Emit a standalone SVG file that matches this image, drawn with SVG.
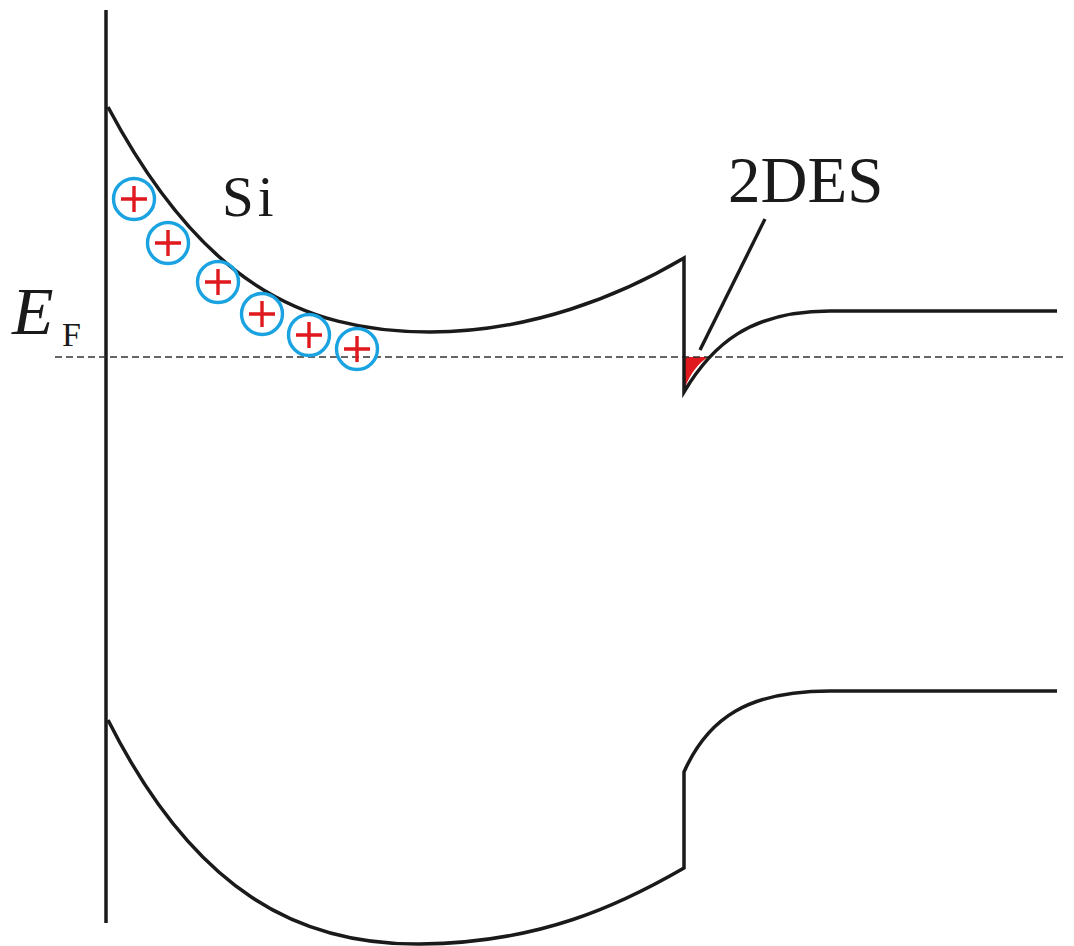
<svg xmlns="http://www.w3.org/2000/svg" width="1074" height="946" viewBox="0 0 1074 946">
<style>
.band{fill:none;stroke:#1a1a1a;stroke-width:3.5;stroke-linejoin:miter}
.ion circle{fill:none;stroke:#1aa3e0;stroke-width:3.4}
.ion path{stroke:#e0191e;stroke-width:3.4;fill:none}
.lbl{font-family:"Liberation Serif","Times New Roman",serif;fill:#1a1a1a}
</style>
<rect width="1074" height="946" fill="#fff"/>
<g id="axis"><line x1="106" y1="10" x2="106" y2="923" class="band"/></g>
<g id="twodes-fill"><path d="M685,357 L708,357 C699,363 690,373 685,388 Z" fill="#e0191e"/></g>
<g id="fermi"><line x1="55" y1="357" x2="1066" y2="357" stroke="#333" stroke-width="1.6" stroke-dasharray="7,4"/></g>
<g id="conduction-band">
<path class="band" d="M108,107 C200,280 300,332 430,332 C530,332 620,296 684,258 L684,392 C712,345 750,311 830,311 L1057,311"/>
</g>
<g id="valence-band">
<path class="band" d="M108,720 C195,893 300,945 420,944 C540,943 620,905 684,868 L684,772 C708,718 748,691 830,691 L1057,691"/>
</g>
<g id="ions">
<g class="ion"><circle cx="134" cy="199" r="20.5"/><path d="M121,199 H147 M134,186 V212"/></g>
<g class="ion"><circle cx="168" cy="243" r="20.5"/><path d="M155,243 H181 M168,230 V256"/></g>
<g class="ion"><circle cx="218" cy="282" r="20.5"/><path d="M205,282 H231 M218,269 V295"/></g>
<g class="ion"><circle cx="262" cy="314" r="20.5"/><path d="M249,314 H275 M262,301 V327"/></g>
<g class="ion"><circle cx="309" cy="335" r="20.5"/><path d="M296,335 H322 M309,322 V348"/></g>
<g class="ion"><circle cx="357" cy="349" r="20.5"/><path d="M344,349 H370 M357,336 V362"/></g>
</g>
<g id="si-label"><text class="lbl" x="222" y="216" font-size="57" letter-spacing="4">Si</text></g>
<g id="ef-label">
<text class="lbl" x="12" y="334" font-size="68" font-style="italic">E</text>
<text class="lbl" x="62" y="346" font-size="34">F</text>
</g>
<g id="twodes-label"><text class="lbl" x="728" y="202" font-size="65">2DES</text></g>
<g id="connectors"><line x1="765" y1="219" x2="700" y2="350" stroke="#1a1a1a" stroke-width="3.4"/></g>
</svg>
